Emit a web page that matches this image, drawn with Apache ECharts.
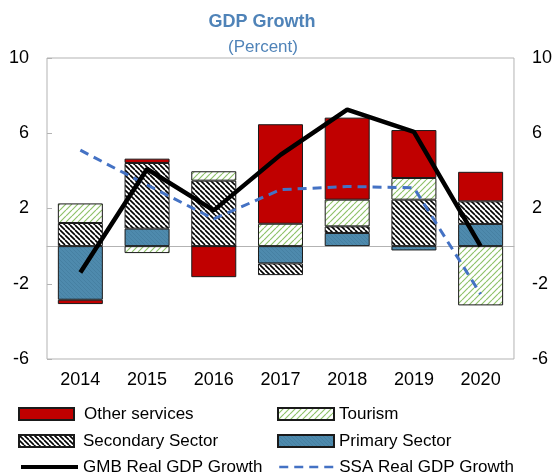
<!DOCTYPE html>
<html>
<head>
<meta charset="utf-8">
<script src="https://cdn.jsdelivr.net/npm/echarts@6/dist/echarts.min.js"></script>
<style>
  html, body { margin: 0; padding: 0; background: #fff; }
  #chart { width: 555px; height: 476px; }
</style>
</head>
<body>
<div id="chart"></div>
<script>
// Contributions to real GDP growth by sector (percentage points)
const years = ['2014', '2015', '2016', '2017', '2018', '2019', '2020'];
const primarySector   = [-2.85, 0.93, 0.00, -0.92, 0.70, -0.23, 1.18];
const secondarySector = [1.23, 3.49, 3.48, -0.62, 0.35, 2.47, 1.20];
const tourism         = [1.04, -0.37, 0.50, 1.19, 1.42, 1.15, -3.15];
const otherServices   = [-0.23, 0.23, -1.65, 5.29, 4.36, 2.55, 1.57];
// Headline growth rates (percent)
const gmbGrowth = [-1.4, 4.1, 1.9, 4.85, 7.25, 6.07, 0.0];
const ssaGrowth = [5.1, 3.25, 1.45, 3.0, 3.17, 3.1, -2.55];
// Value axis ticks
const axisMin = -6, axisMax = 10, axisStep = 4;

// Tileable diagonal hatch fill
function hatch(bg, fg, size, width, dir) {
  const c = document.createElement('canvas');
  c.width = size; c.height = size;
  const g = c.getContext('2d');
  g.fillStyle = bg; g.fillRect(0, 0, size, size);
  g.strokeStyle = fg; g.lineWidth = width;
  g.beginPath();
  for (let k = -size; k <= size; k += size) {
    if (dir === '/') { g.moveTo(k, size); g.lineTo(k + size, 0); }
    else { g.moveTo(k, 0); g.lineTo(k + size, size); }
  }
  g.stroke();
  return { image: c, repeat: 'repeat' };
}

const fills = {
  other: '#c00000',
  tourism: hatch('#ffffff', '#8fc26a', 6, 1.2, '/'),
  secondary: hatch('#ffffff', '#000000', 5, 1.6, '\\'),
  primary: hatch('#4e8aad', '#4680a2', 4, 1, '\\')
};

const barBorder = { borderColor: '#1a1a1a', borderWidth: 1 };
const titleColor = '#4f83b8';
const font = 'Liberation Sans, Arial, sans-serif';

function barSeries(name, data, fill) {
  return {
    name, type: 'bar', stack: 'sectors', data,
    barWidth: 45,
    itemStyle: Object.assign({ color: fill }, barBorder),
    emphasis: { disabled: true }
  };
}

function legendAt(name, left, top, w, pad, lineWidth) {
  const leg = {
    data: [name], left, top, padding: 0,
    itemWidth: w, itemHeight: 12,
    selectedMode: false,
    textStyle: { fontFamily: font, fontSize: 17, color: '#000', lineHeight: 18, padding: [0, 0, 0, pad] }
  };
  if (lineWidth) {
    // keep only the stroke, hide the marker dot
    leg.itemStyle = { opacity: 0 };
    leg.lineStyle = { width: lineWidth };
  } else {
    leg.icon = 'rect';
  }
  return leg;
}

const chart = echarts.init(document.getElementById('chart'), null, { renderer: 'canvas' });
chart.setOption({
  animation: false,
  grid: { left: 47, right: 41, top: 58, bottom: 117, show: true, borderColor: '#b3b3b3', borderWidth: 1 },
  graphic: [
    { type: 'text', x: 262, y: 22, style: { text: 'GDP Growth', font: 'bold 18px ' + font, fill: titleColor, align: 'center', verticalAlign: 'middle', textAlign: 'center', textVerticalAlign: 'middle' } },
    { type: 'text', x: 263, y: 47, style: { text: '(Percent)', font: '17px ' + font, fill: titleColor, align: 'center', verticalAlign: 'middle', textAlign: 'center', textVerticalAlign: 'middle' } }
  ],
  xAxis: [
    {
      type: 'category', data: years, position: 'bottom',
      axisLine: { show: false }, axisTick: { show: false },
      axisLabel: { fontFamily: font, fontSize: 18, color: '#000', margin: 12 }
    },
    {
      type: 'category', data: years,
      axisLine: { show: true, onZero: true, lineStyle: { color: '#b3b3b3', width: 1 } },
      axisTick: { show: false }, axisLabel: { show: false }
    }
  ],
  yAxis: [
    {
      type: 'value', min: axisMin, max: axisMax, interval: axisStep, position: 'left',
      axisLine: { show: false },
      axisTick: { show: true, inside: true, length: 5, lineStyle: { color: '#b3b3b3' } },
      splitLine: { show: false },
      axisLabel: { fontFamily: font, fontSize: 18, color: '#000', margin: 18 }
    },
    {
      type: 'value', min: axisMin, max: axisMax, interval: axisStep, position: 'right',
      axisLine: { show: false }, axisTick: { show: false }, splitLine: { show: false },
      axisLabel: { fontFamily: font, fontSize: 18, color: '#000', margin: 18 }
    }
  ],
  legend: [
    legendAt('Other services', 18, 405, 55, 5, 0),
    legendAt('Tourism', 277, 405, 56, 0, 0),
    legendAt('Secondary Sector', 18, 432, 55, 4, 0),
    legendAt('Primary Sector', 277, 432, 56, 0, 0),
    legendAt('GMB Real GDP Growth', 19, 458, 57, 0, 4),
    legendAt('SSA Real GDP Growth', 278, 458, 55, 0, 2.5)
  ],
  series: [
    barSeries('Primary Sector', primarySector, fills.primary),
    barSeries('Secondary Sector', secondarySector, fills.secondary),
    barSeries('Tourism', tourism, fills.tourism),
    barSeries('Other services', otherServices, fills.other),
    {
      name: 'GMB Real GDP Growth', type: 'line', data: gmbGrowth,
      symbol: 'none', lineStyle: { color: '#000', width: 4.5 }, itemStyle: { color: '#000' },
      emphasis: { disabled: true }, z: 5
    },
    {
      name: 'SSA Real GDP Growth', type: 'line', data: ssaGrowth,
      symbol: 'none', lineStyle: { color: '#4472c4', width: 3, type: [9, 6] }, itemStyle: { color: '#4472c4' },
      emphasis: { disabled: true }, z: 4
    }
  ]
});
</script>
</body>
</html>
